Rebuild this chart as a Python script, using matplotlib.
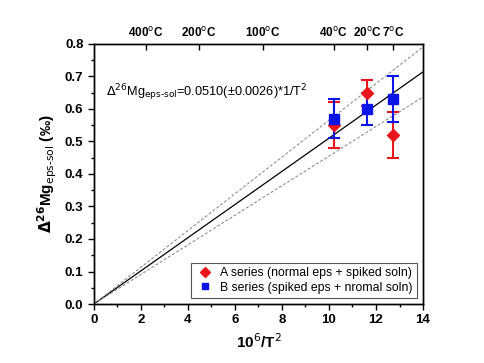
import numpy as np
import matplotlib
matplotlib.use("Agg")
import matplotlib.pyplot as plt
from matplotlib.lines import Line2D

plt.rcParams['font.family'] = ['Liberation Sans', 'DejaVu Sans']

# temperatures of the experiments (deg C) and 10^6/T^2
temps_c = [40, 20, 7]
x_vals = [1e6 / (t + 273.15) ** 2 for t in temps_c]

# A series (normal eps + spiked soln)
a_vals = [0.55, 0.65, 0.52]
a_err = [0.07, 0.04, 0.07]

# B series (spiked eps + nromal soln)
b_vals = [0.57, 0.60, 0.63]
b_err = [0.06, 0.05, 0.07]

# fitted slope and bounds
slope = 0.0510
slope_hi = 0.0565
slope_lo = 0.0455

# top axis temperatures
top_temps = [400, 200, 100, 40, 20, 7]

red = '#e8161b'
blue = '#0a14e6'

fig = plt.figure(figsize=(4.84, 3.63), dpi=100)
ax = fig.add_axes([0.194, 0.1625, 0.68, 0.7165])

xl = np.array([0, 14])
ax.plot(xl, slope * xl, color='black', lw=0.9)
ax.plot(xl, slope_hi * xl, color='gray', lw=0.7, ls='--', dashes=(3, 2))
ax.plot(xl, slope_lo * xl, color='gray', lw=0.7, ls='--', dashes=(3, 2))

ax.errorbar(x_vals, a_vals, yerr=a_err, fmt='D', color=red, ms=6,
            capsize=4, elinewidth=1.5, capthick=1.5)
ax.errorbar(x_vals, b_vals, yerr=b_err, fmt='s', color=blue, ms=7.5,
            capsize=4, elinewidth=1.5, capthick=1.5)

ax.text(0.5, 0.65, r'$\Delta^{26}$Mg$_{\rm eps\text{-}sol}$=0.0510(±0.0026)*1/T$^2$',
        fontsize=9.2, va='center')

ax.set_xlim(0, 14)
ax.set_ylim(0, 0.8)
ax.set_xticks(np.arange(0, 15, 2))
ax.set_xticks(np.arange(0, 15, 1), minor=True)
ax.set_yticks(np.arange(0, 0.81, 0.1))
ax.set_yticks(np.arange(0, 0.81, 0.05), minor=True)
ax.yaxis.set_major_formatter(matplotlib.ticker.FormatStrFormatter('%.1f'))
ax.tick_params(which='major', direction='out', length=4, width=1)
ax.tick_params(which='minor', direction='out', length=2.5, width=1)
for lab in ax.get_xticklabels() + ax.get_yticklabels():
    lab.set_fontweight('bold')
    lab.set_fontsize(9.5)
for s in ax.spines.values():
    s.set_linewidth(1)

ax.set_xlabel(r'10$^6$/T$^2$', fontsize=11, fontweight='bold')
ax.set_ylabel(r'$\mathbf{\Delta^{26}}$Mg$_{\rm eps\text{-}sol}$ (‰)',
              fontsize=11, fontweight='bold')

top = ax.twiny()
top.set_xlim(0, 14)
top.set_xticks([1e6 / (t + 273.15) ** 2 for t in top_temps])
top.set_xticklabels([f'{t}$^{{\\rm o}}$C' for t in top_temps],
                    fontsize=8.5, fontweight='bold')
top.tick_params(direction='in', length=4, width=1, pad=3)
for s in top.spines.values():
    s.set_linewidth(1)

handles = [
    Line2D([], [], marker='D', color=red, ls='none', ms=5),
    Line2D([], [], marker='s', color=blue, ls='none', ms=5),
]
labels = ['A series (normal eps + spiked soln)',
          'B series (spiked eps + nromal soln)']
leg = ax.legend(handles, labels, loc='lower right', fontsize=8.8,
                fancybox=False, edgecolor='#555555', handletextpad=0.5,
                handlelength=1.5, borderpad=0.35, labelspacing=0.2,
                framealpha=1, borderaxespad=0.5)
leg.get_frame().set_linewidth(0.8)

fig.savefig('out.png', dpi=100)
